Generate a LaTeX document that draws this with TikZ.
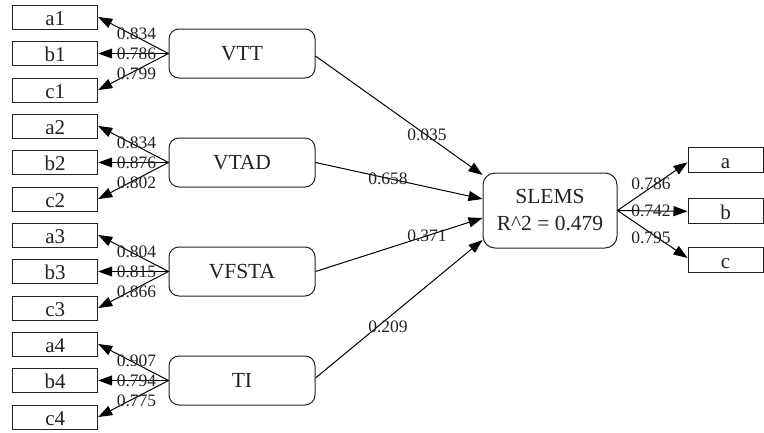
\documentclass[tikz,border=0pt]{standalone}
\usepackage{fontspec}
\setmainfont{Liberation Serif}
\usetikzlibrary{arrows.meta}
\definecolor{ink}{HTML}{222222}
\begin{document}
\begin{tikzpicture}[x=1pt,y=-1pt,
  item/.style={draw=ink, line width=1pt, minimum width=85pt, minimum height=24pt,
    inner sep=0pt, text height=19pt, text depth=2.5pt, text=ink,
    font=\fontsize{21}{22}\selectfont},
  outitem/.style={item, minimum width=75pt, minimum height=25pt},
  factor/.style={draw=ink, line width=1pt, rounded corners=10pt, minimum width=146pt,
    minimum height=49pt, inner sep=0pt, text=ink, font=\fontsize{21.5}{27}\selectfont},
  weight/.style={inner sep=0pt, text=ink, font=\fontsize{17.5}{18}\selectfont},
  link/.style={line width=1pt, black, -{Triangle[length=14pt,width=10pt]}}]
\useasboundingbox (0,0) rectangle (764,432);

% measured items, four groups of three
\foreach \g/\yc in {1/53.5, 2/162.5, 3/271.5, 4/380.5} {
  \node[item] (a\g) at (55.2,\yc-36.5) {a\g};
  \node[item] (b\g) at (55.2,\yc) {b\g};
  \node[item] (c\g) at (55.2,\yc+36.5) {c\g};
}

% latent factors
\node[factor] (VTT)   at (242,53.5)  {VTT};
\node[factor] (VTAD)  at (242,162.5) {VTAD};
\node[factor] (VFSTA) at (242,271.5) {VFSTA};
\node[factor] (TI)    at (242,380.5) {TI};

% outcome construct
\node[factor, minimum width=134pt, minimum height=75pt, rounded corners=12pt,
  align=center] (SLEMS) at (550,210.5) {SLEMS\\R\^{}2 = 0.479};

% outcome items
\node[outitem] (a) at (725.5,160.3) {a};
\node[outitem] (b) at (725.5,211.3) {b};
\node[outitem] (c) at (725.5,260)   {c};

% loadings of each factor on its items
\foreach \f/\g/\la/\lb/\lc in {VTT/1/0.834/0.786/0.799, VTAD/2/0.834/0.876/0.802,
    VFSTA/3/0.804/0.815/0.866, TI/4/0.907/0.794/0.775} {
  \draw[link] (\f.west) -- (a\g.east);
  \draw[link] (\f.west) -- (b\g.east);
  \draw[link] (\f.west) -- (c\g.east);
  \path (\f.west) ++(-32,-20) node[weight] {\la};
  \path (\f.west) ++(-32,0)   node[weight] {\lb};
  \path (\f.west) ++(-32,20)  node[weight] {\lc};
}

% structural paths
\draw[link] ([yshift=-2.5pt]VTT.east) -- ([yshift=35.5pt]SLEMS.west);
\draw[link] (VTAD.east)  -- ([yshift=11.5pt]SLEMS.west);
\draw[link] (VFSTA.east) -- ([yshift=-7.5pt]SLEMS.west);
\draw[link] ([yshift=2.5pt]TI.east) -- ([yshift=-29.5pt]SLEMS.west);
\node[weight] (w1) at (427,135)   {0.035};
\node[weight] (w2) at (388,178.5) {0.658};
\node[weight] (w3) at (427,235.5) {0.371};
\node[weight] (w4) at (388,326.5) {0.209};

% loadings of the outcome on its items
\draw[link] (SLEMS.east) -- ([yshift=-2pt]a.west);
\draw[link] (SLEMS.east) -- (b.west);
\draw[link] (SLEMS.east) -- ([yshift=2pt]c.west);
\node[weight] (o1) at (651,184)   {0.786};
\node[weight] (o2) at (651,210.7) {0.742};
\node[weight] (o3) at (651,237.3) {0.795};
\end{tikzpicture}
\end{document}
